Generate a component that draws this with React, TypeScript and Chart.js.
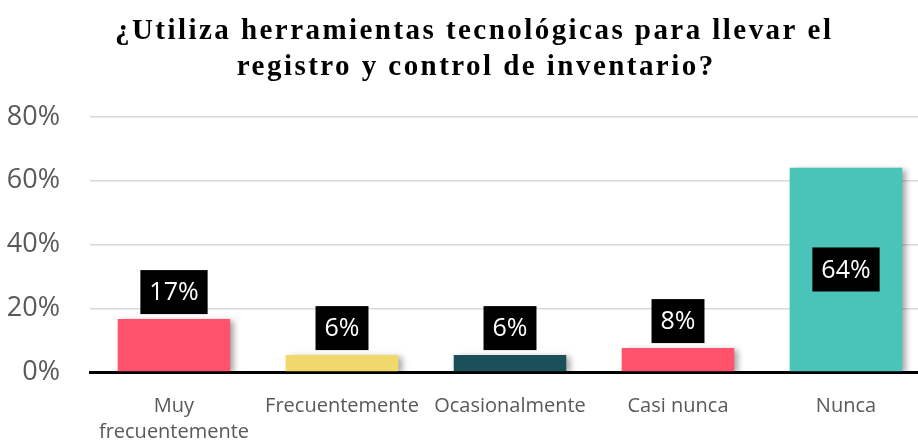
import React, { useEffect, useRef } from "react";
import { Chart, registerables } from "chart.js";

Chart.register(...registerables);

const categories: (string | string[])[] = [
  ["Muy", "frecuentemente"],
  "Frecuentemente",
  "Ocasionalmente",
  "Casi nunca",
  "Nunca",
];
const values = [0.166, 0.053, 0.053, 0.075, 0.641];
const valueLabels = ["17%", "6%", "6%", "8%", "64%"];
const barColors = ["#FF526C", "#F0D96A", "#1B4F59", "#FF526C", "#4AC3B8"];
const titleLines = [
  "¿Utiliza herramientas tecnológicas para llevar el",
  "registro y control de inventario?",
];

const labelFont = "25px 'Open Sans', sans-serif";

const titleDraw = {
  id: "titleDraw",
  afterDraw(chart: any) {
    const ctx = chart.ctx;
    ctx.save();
    ctx.font = "bold 29px 'Liberation Serif', serif";
    (ctx as any).letterSpacing = "2.45px";
    ctx.fillStyle = "#000";
    ctx.textAlign = "center";
    ctx.textBaseline = "alphabetic";
    ctx.fillText(titleLines[0], 473 + 1.2, 39);
    ctx.fillText(titleLines[1], 475 + 1.2, 75);
    ctx.restore();
  },
};

const barDecor = {
  id: "barDecor",
  beforeDatasetsDraw(chart: any) {
    const ctx = chart.ctx;
    ctx.save();
    ctx.shadowColor = "rgba(0,0,0,0.35)";
    ctx.shadowBlur = 6;
    ctx.shadowOffsetX = 4;
    ctx.shadowOffsetY = 2;
  },
  afterDatasetsDraw(chart: any) {
    const ctx = chart.ctx;
    ctx.restore();
    const meta = chart.getDatasetMeta(0);
    ctx.save();
    ctx.font = labelFont;
    ctx.textAlign = "center";
    ctx.textBaseline = "middle";
    meta.data.forEach((bar: any, i: number) => {
      const txt = valueLabels[i];
      const w = ctx.measureText(txt).width + 18;
      const h = 44;
      let cy: number;
      if (values[i] > 0.5) {
        cy = (bar.y + bar.base) / 2;
      } else {
        cy = bar.y - 5 - h / 2;
      }
      ctx.fillStyle = "#000";
      ctx.fillRect(bar.x - w / 2, cy - h / 2, w, h);
      ctx.fillStyle = "#fff";
      ctx.fillText(txt, bar.x, cy + 1);
    });
    ctx.restore();
  },
};

export default function App() {
  const ref = useRef<HTMLCanvasElement>(null);
  useEffect(() => {
    document.body.style.margin = "0";
    document.body.style.overflow = "hidden";
    const chart = new Chart(ref.current!, {
      type: "bar",
      data: {
        labels: categories,
        datasets: [
          {
            data: values,
            backgroundColor: barColors,
            barPercentage: 0.67,
            categoryPercentage: 1,
          },
        ],
      },
      plugins: [barDecor, titleDraw],
      options: {
        animation: false,
        responsive: false,
        layout: { padding: { left: 0, right: 20, top: 117, bottom: 0 } },
        plugins: {
          legend: { display: false },
          tooltip: { enabled: false },
          title: { display: false },
        },
        scales: {
          x: {
            grid: { display: false, drawTicks: false },
            border: { color: "#000", width: 3 },
            ticks: {
              color: "#595959",
              font: { family: "'Open Sans', sans-serif", size: 20, lineHeight: 1.3 },
              padding: 21,
              maxRotation: 0,
            },
            afterFit(scale: any) {
              scale.height = 69;
            },
          },
          y: {
            min: 0,
            max: 0.8,
            grid: { color: "#D9D9D9", lineWidth: 1.5, drawTicks: false },
            border: { display: false },
            ticks: {
              stepSize: 0.2,
              color: "#595959",
              font: { family: "'Open Sans', sans-serif", size: 27 },
              padding: 30,
              callback: (v: any) => Math.round(Number(v) * 100) + "%",
            },
            afterFit(scale: any) {
              scale.width = 90;
            },
          },
        },
      },
    });
    return () => chart.destroy();
  }, []);
  return (
    <div style={{ position: "fixed", left: 0, top: 0, width: 950, height: 441 }}>
      <canvas ref={ref} width={950} height={441} style={{ width: 950, height: 441 }} />
    </div>
  );
}
